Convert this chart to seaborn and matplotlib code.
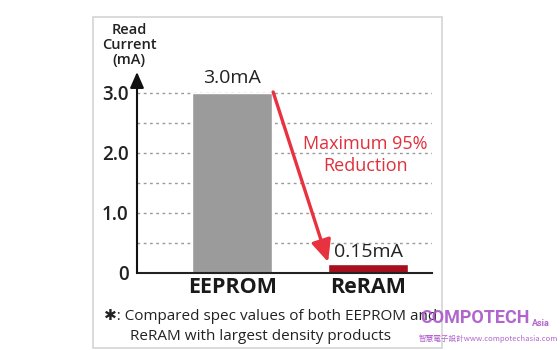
import matplotlib
matplotlib.use("Agg")
import matplotlib.pyplot as plt
import seaborn as sns
from matplotlib.patches import Rectangle

categories = ["EEPROM", "ReRAM"]
current_ma = [3.0, 0.15]
value_labels = ["3.0mA", "0.15mA"]
ytick_vals = [0, 1.0, 2.0, 3.0]
ytick_labels = ["0", "1.0", "2.0", "3.0"]
bar_colors = ["#9b9b9b", "#a50f1e"]

sns.set_theme(style="white")
plt.rcParams['font.family'] = ['Open Sans', 'DejaVu Sans', 'Noto Sans CJK TC']

W, H = 560, 350
fig = plt.figure(figsize=(W / 100, H / 100), dpi=100)

def fx(px):
    return px / W

def fy(py):
    return 1 - py / H

# frame box
fig.patches.append(Rectangle((fx(93), fy(348)), fx(442) - fx(93), fy(17) - fy(348),
                             transform=fig.transFigure, fill=False,
                             edgecolor="#d4d4d4", linewidth=1.2))

ytop = 3.4
ax = fig.add_axes([fx(137), fy(273), fx(432) - fx(137), ytop * 60 / H])
sns.barplot(x=categories, y=current_ma, hue=categories, palette=bar_colors,
            width=0.59, legend=False, ax=ax, saturation=1)
ax.set_xlim(-0.70, 1.47)
ax.set_ylim(0, ytop)

for s in ["top", "right", "left"]:
    ax.spines[s].set_visible(False)
ax.spines["bottom"].set_color("#222222")
ax.spines["bottom"].set_linewidth(1.5)
ax.set_xlabel("")
ax.set_ylabel("")

# dotted gridlines every 0.5
for g in [0.5, 1.0, 1.5, 2.0, 2.5, 3.0]:
    ax.axhline(g, color="#9a9a9a", linestyle=(0, (2, 2.5)), linewidth=1.0, zorder=0)

ax.set_yticks(ytick_vals)
ax.set_yticklabels(ytick_labels, fontsize=13.5, color="#222222", fontweight="semibold")
ax.tick_params(axis="y", length=0, pad=6)
ax.set_xticks([0, 1])
ax.set_xticklabels(categories, fontsize=15.5, fontweight="bold", color="#1a1a1a")
ax.tick_params(axis="x", length=0, pad=3)

# y axis with arrow
ax.annotate("", xy=(-0.70, 3.35), xytext=(-0.70, 0), xycoords="data",
            arrowprops=dict(arrowstyle="-|>,head_width=0.35,head_length=0.8",
                            color="#111111", lw=1.5, shrinkA=0, shrinkB=0),
            annotation_clip=False)

# value labels
ax.text(0, 3.1, value_labels[0], ha="center", va="bottom", fontsize=14,
        color="#222222", fontweight="medium")
ax.text(1, 0.2, value_labels[1], ha="center", va="bottom", fontsize=14,
        color="#222222", fontweight="medium")

# reduction arrow
ax.annotate("", xy=((328 - 232) / 136, (273 - 262) / 60),
            xytext=((273 - 232) / 136, (273 - 92) / 60),
            arrowprops=dict(arrowstyle="-|>,head_width=0.5,head_length=1.1",
                            color="#e8323f", lw=2.4, shrinkA=0, shrinkB=0))
ax.text(0.98, 1.97, "Maximum 95%\nReduction", ha="center", va="center",
        fontsize=13, color="#e0303c", linespacing=1.3, fontweight="medium")

# y label
fig.text(fx(129), fy(45), "Read\nCurrent\n(mA)", ha="center", va="center",
         fontsize=10.5, color="#222222", fontweight="semibold", linespacing=1.05)

# footnote
fig.text(fx(104), fy(317), "\u2731: Compared spec values of both EEPROM and",
         ha="left", va="center", fontsize=11, color="#222222",
         family=['Open Sans', 'DejaVu Sans'])
fig.text(fx(130), fy(336), "ReRAM with largest density products",
         ha="left", va="center", fontsize=11, color="#222222")

# watermark
fig.text(fx(420), fy(318), "COMPOTECH", ha="left", va="center", fontsize=13,
         color="#a855c8", fontweight="bold",
         family=['Roboto', 'DejaVu Sans'], alpha=0.9)
fig.text(fx(532), fy(323), "Asia", ha="left", va="center", fontsize=6.5,
         color="#a855c8", fontweight="bold",
         family=['Roboto', 'DejaVu Sans'], alpha=0.9)
fig.text(fx(419), fy(339), "智慧電子設計www.compotechasia.com", ha="left", va="center",
         fontsize=5.5, color="#a855c8", family=['Noto Sans CJK TC', 'DejaVu Sans'],
         alpha=0.9)

fig.savefig("out.png", dpi=100)
